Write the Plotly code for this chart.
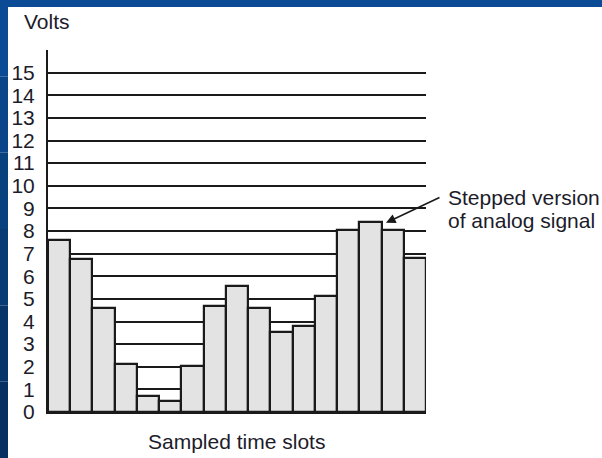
import plotly.graph_objects as go

# Data
slots = list(range(1, 18))
volts = [7.6, 6.75, 4.6, 2.12, 0.72, 0.48, 2.05, 4.68, 5.55, 4.6, 3.52, 3.82, 5.13, 8.06, 8.4, 8.06, 6.82]
tick_vals = list(range(0, 16))
tick_text = [str(v) for v in tick_vals]

W, H = 602, 458
L, R, T, B = 48, 176, 50, 46
pw, ph = W - L - R, H - T - B

def px(x):
    return (x - L) / pw

def py(y):
    return (H - B - y) / ph

font = dict(family="Liberation Sans, Arial, sans-serif", size=21, color="#1c1c2a")

fig = go.Figure(go.Bar(
    x=slots, y=volts,
    marker=dict(color="#e3e3e3", line=dict(color="#1a1a1a", width=2.2)),
    width=1.0,
))

shapes = []
# blue slide frame (top and left strips), left strip darkening downward
shapes.append(dict(type="rect", xref="paper", yref="paper",
                   x0=px(0), x1=px(W), y0=py(7), y1=py(0),
                   fillcolor="#0b4a94", line=dict(width=0), layer="above"))
left_cols = ["#0b4a94", "#0a4589", "#09407e", "#083b74", "#07356a", "#063061"]
n = len(left_cols)
for i, c in enumerate(left_cols):
    y0p = i * H / n
    y1p = (i + 1) * H / n
    shapes.append(dict(type="rect", xref="paper", yref="paper",
                       x0=px(0), x1=px(8), y0=py(y1p), y1=py(y0p),
                       fillcolor=c, line=dict(width=0), layer="above"))

annotations = [
    dict(text="Volts", xref="paper", yref="paper", x=px(22), y=py(21),
         xanchor="left", yanchor="middle", showarrow=False, font=font),
    dict(text="Sampled time slots", xref="paper", yref="paper", x=px(236), y=py(442),
         xanchor="center", yanchor="middle", showarrow=False, font=font),
    dict(text="Stepped version", xref="paper", yref="paper", x=px(446), y=py(197),
         xanchor="left", yanchor="middle", showarrow=False, font=font),
    dict(text="of analog signal", xref="paper", yref="paper", x=px(446), y=py(220),
         xanchor="left", yanchor="middle", showarrow=False, font=font),
    dict(text="", x=slots[15] - 0.3, y=volts[15] + 0.3, xref="x", yref="y",
         showarrow=True, arrowhead=2, arrowsize=1.2, arrowwidth=1.6, arrowcolor="#1a1a1a",
         ax=55, ay=-26, axref="pixel", ayref="pixel"),
]

fig.update_layout(
    width=W, height=H,
    margin=dict(l=L, r=R, t=T, b=B, pad=0, autoexpand=False),
    paper_bgcolor="white", plot_bgcolor="white",
    showlegend=False, bargap=0,
    shapes=shapes, annotations=annotations,
    xaxis=dict(range=[0.5, 17.5], showgrid=False, zeroline=False, showticklabels=False,
               ticks="", showline=True, linecolor="#1a1a1a", linewidth=2, fixedrange=True,
               automargin=False),
    yaxis=dict(range=[0, 16], tickvals=tick_vals, ticktext=tick_text,
               showgrid=True, gridcolor="#1a1a1a", gridwidth=1.6,
               zeroline=False, showline=True, linecolor="#1a1a1a", linewidth=2,
               ticks="outside", ticklen=7, tickcolor="rgba(0,0,0,0)",
               tickfont=font, fixedrange=True, automargin=False),
)

fig.write_html(
    "out.html",
    config={"displayModeBar": False},
    post_script="document.body.style.margin='0';document.body.style.padding='0';"
                "document.body.style.overflow='hidden';"
                "document.documentElement.style.overflow='hidden';",
)
